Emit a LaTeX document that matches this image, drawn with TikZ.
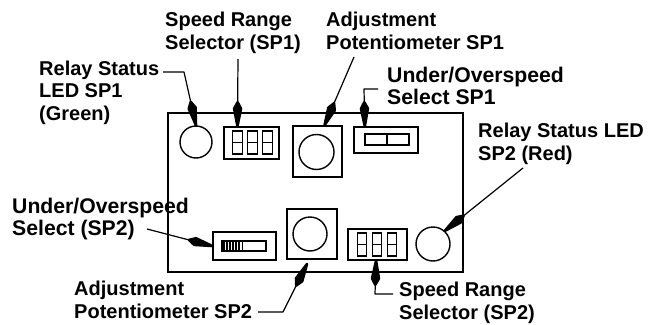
\documentclass[tikz,border=0pt]{standalone}
\usepackage{fontspec}
\setmainfont{Liberation Sans}
\usetikzlibrary{calc}
\tikzset{
  lbl/.style={anchor=base west,inner sep=0pt,align=left,font=\fontsize{20}{22.5}\selectfont\bfseries},
  lblwide/.style={lbl,font=\fontsize{21.2}{21.5}\selectfont\bfseries},
  part/.style={draw,line width=1.5pt,inner sep=0pt,minimum width=#1},
  knob/.style={draw,circle,line width=1.4pt,inner sep=0pt,minimum size=#1},
  digit/.style={draw,line width=1.3pt,inner sep=0pt,minimum width=9.5pt,minimum height=23pt},
  leader/.style={line width=1.2pt,line join=round},
  headfill/.style={fill=black,draw=black,line width=2.6pt,line join=round}
}
\newcommand{\kitehead}[2]{\path[headfill] (#1) -- ($(#1)!18pt!11:(#2)$) -- ($(#1)!24pt!0:(#2)$) -- ($(#1)!18pt!-11:(#2)$) -- cycle;}
\begin{document}
\begin{tikzpicture}[x=1pt,y=-1pt]
  \useasboundingbox (0,0) rectangle (656,324);

  \node[part=295pt,minimum height=159pt] (board) at (315.5,192.5) {};

  \node[knob=32pt] (ledA) at (196,142) {};
  \node[part=55pt,minimum height=32pt] (rangeA) at (251.5,143) {};
  \node[digit] (digA) at (237.5,142.5) {};
  \node[digit] (digB) at (252.5,142.5) {};
  \node[digit] (digC) at (267.5,142.5) {};
  \draw[line width=1.3pt] (digA.west) -- (digA.east);
  \draw[line width=1.3pt] (digB.west) -- (digB.east);
  \draw[line width=1.3pt] (digC.west) -- (digC.east);

  \node[part=49pt,minimum height=51pt] (potA) at (317.5,151.5) {};
  \node[knob=35pt] (knobA) at (316.5,152) {};

  \node[part=64pt,minimum height=26pt] (speedA) at (386,140) {};
  \node[part=44pt,minimum height=11pt] (slideA) at (387,139.5) {};
  \draw[line width=1.3pt] (slideA.north) -- (slideA.south);

  \node[part=63pt,minimum height=28pt] (speedB) at (244.5,246) {};
  \node[part=44pt,minimum height=10pt] (slideB) at (244,246) {};
  \draw[line width=1.6pt] (224,241) -- (224,251);
  \draw[line width=1.6pt] (227,241) -- (227,251);
  \draw[line width=1.6pt] (230,241) -- (230,251);
  \draw[line width=1.6pt] (233,241) -- (233,251);
  \draw[line width=1.6pt] (236,241) -- (236,251);
  \draw[line width=1.6pt] (239,241) -- (239,251);
  \draw[line width=1.3pt] (242.5,241) -- (242.5,251);

  \node[part=50pt,minimum height=50pt] (potB) at (312,234) {};
  \node[knob=34pt] (knobB) at (310,234) {};

  \node[part=59pt,minimum height=31pt] (rangeB) at (377.5,244.5) {};
  \node[digit] (digD) at (362,244.5) {};
  \node[digit] (digE) at (377,244.5) {};
  \node[digit] (digF) at (392,244.5) {};
  \draw[line width=1.3pt] (digD.west) -- (digD.east);
  \draw[line width=1.3pt] (digE.west) -- (digE.east);
  \draw[line width=1.3pt] (digF.west) -- (digF.east);

  \node[knob=34pt] (ledB) at (433,244) {};

  \node[lbl] (lblRelayA) at (39,120) {Relay Status\\LED SP1\\(Green)};
  \node[lbl] (lblRangeA) at (165,49) {Speed Range\\Selector (SP1)};
  \node[lbl] (lblPotA) at (326,49) {Adjustment\\Potentiometer SP1};
  \node[lblwide] (lblSpeedA) at (387,104) {Under/Overspeed\\Select SP1};
  \node[lbl] (lblRelayB) at (478,160) {Relay Status LED\\SP2 (Red)};
  \node[lblwide] (lblSpeedB) at (12,235) {Under/Overspeed\\Select (SP2)};
  \node[lbl] (lblPotB) at (74,318) {Adjustment\\Potentiometer SP2};
  \node[lbl] (lblRangeB) at (399,319) {Speed Range\\Selector (SP2)};

  \coordinate (startRelayA) at (163,72);
  \coordinate (bendRelayA) at (184,72);
  \coordinate (startRangeA) at (238,59);
  \coordinate (startPotA) at (354,57);
  \coordinate (startSpeedA) at (378,89);
  \coordinate (bendSpeedA) at (364,89);
  \coordinate (startRelayB) at (523,168);
  \coordinate (startSpeedB) at (147,229);
  \coordinate (startPotB) at (258,312);
  \coordinate (bendPotB) at (283,312);
  \coordinate (tipPotB) at (307,264);
  \coordinate (startRangeB) at (393,294);
  \coordinate (bendRangeB) at (375,294);

  \draw[leader] (startRelayA) -- (bendRelayA) -- (ledA.north);
  \kitehead{ledA.north}{bendRelayA}
  \draw[leader] (startRangeA) -- (rangeA.130);
  \kitehead{rangeA.130}{startRangeA}
  \draw[leader] (startPotA) -- (potA.75);
  \kitehead{potA.75}{startPotA}
  \draw[leader] (startSpeedA) -- (bendSpeedA) -- (speedA.147);
  \kitehead{speedA.147}{bendSpeedA}
  \draw[leader] (startRelayB) -- (ledB.48);
  \kitehead{ledB.48}{startRelayB}
  \draw[leader] (startSpeedB) -- (speedB.west);
  \kitehead{speedB.west}{startSpeedB}
  \draw[leader] (startPotB) -- (bendPotB) -- (tipPotB);
  \kitehead{tipPotB}{bendPotB}
  \draw[leader] (startRangeB) -- (bendRangeB) -- (rangeB.265);
  \kitehead{rangeB.265}{bendRangeB}
\end{tikzpicture}
\end{document}
